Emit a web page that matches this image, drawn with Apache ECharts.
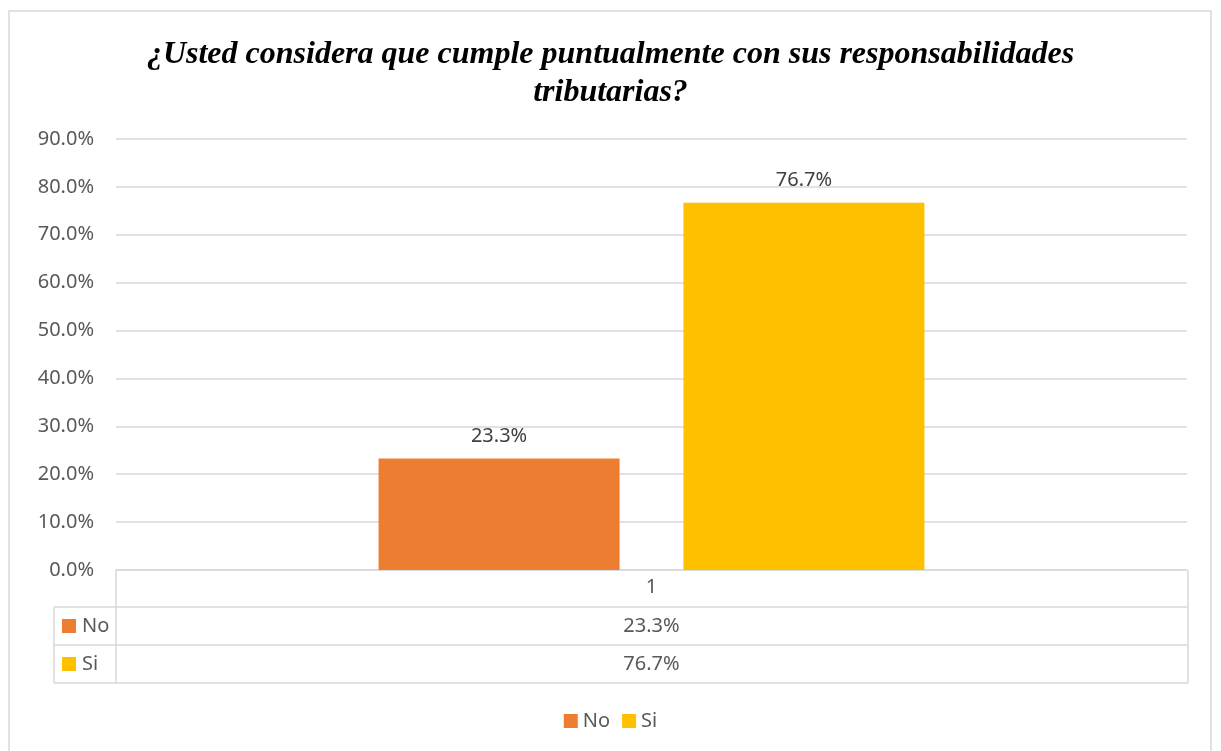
<!DOCTYPE html>
<html>
<head>
<meta charset="utf-8">
<script src="https://cdn.jsdelivr.net/npm/echarts@6/dist/echarts.min.js"></script>
<style>
html,body{margin:0;padding:0;background:#fff;}
#chart{width:1221px;height:751px;}
</style>
</head>
<body>
<div id="chart"></div>
<script>
var categorias=['1'];
var nombres=['No','Si'];
var colores=['#ED7D31','#FFC000'];
var valores=[[0.233],[0.767]];
var titulo='¿Usted considera que cumple puntualmente con sus responsabilidades\ntributarias?';

var fuente='"Noto Sans", sans-serif';
var gris='#d9d9d9';
var tam=20;

//limites del grafico (tabla de datos debajo)
var gLeft=116,gRight=1187,gTop=139,gBottom=570;
var filaH=38;
var tablaLeft=54;

function pct(v){
	return (v*100).toFixed(1)+'%';
}

//tabla de datos
function tabla(){
	var el=[];
	var yCat=gBottom+filaH-1;
	var lineStyle={stroke:gris,lineWidth:1.5};
	//bordes de la fila de categoria
	el.push({type:'line',shape:{x1:gLeft,y1:gBottom,x2:gLeft,y2:yCat+filaH*nombres.length},style:lineStyle});
	el.push({type:'line',shape:{x1:gRight+1,y1:gBottom,x2:gRight+1,y2:yCat+filaH*nombres.length},style:lineStyle});
	el.push({type:'line',shape:{x1:tablaLeft,y1:yCat,x2:tablaLeft,y2:yCat+filaH*nombres.length},style:lineStyle});
	for(var i=0;i<=nombres.length;i++){
		var y=yCat+filaH*i;
		el.push({type:'line',shape:{x1:tablaLeft,y1:y,x2:gRight+1,y2:y},style:lineStyle});
	}
	for(var j=0;j<nombres.length;j++){
		var yc=yCat+filaH*j+filaH/2;
		el.push({type:'rect',shape:{x:62,y:yc-7,width:14,height:14},style:{fill:colores[j]}});
		el.push({type:'text',x:82,y:yc,style:{text:nombres[j],fill:'#595959',font:tam+'px '+fuente,verticalAlign:'middle'}});
		el.push({type:'text',x:(gLeft+gRight)/2,y:yc,style:{text:pct(valores[j][0]),fill:'#595959',font:tam+'px '+fuente,align:'center',verticalAlign:'middle'}});
	}
	//borde exterior
	el.push({type:'rect',shape:{x:9,y:11,width:1202,height:760},style:{fill:'none',stroke:gris,lineWidth:1.5}});
	return el;
}

var series=[];
for(var k=0;k<nombres.length;k++){
	series.push({
		name:nombres[k],
		type:'bar',
		data:valores[k],
		barWidth:241,
		barGap:'26.5%',
		itemStyle:{color:colores[k]},
		label:{show:true,position:'top',distance:12,formatter:function(p){return pct(p.value);},color:'#404040',fontSize:tam,fontFamily:fuente}
	});
}

var option={
	animation:false,
	backgroundColor:'#fff',
	title:{
		text:titulo,
		left:'center',
		top:31,
		textStyle:{fontFamily:'"Liberation Serif", "Times New Roman", serif',fontStyle:'italic',fontWeight:'bold',fontSize:32,color:'#000',lineHeight:38}
	},
	legend:{
		data:nombres,
		bottom:15,
		left:'center',
		icon:'rect',
		itemWidth:14,
		itemHeight:14,
		itemGap:12,
		itemStyle:{borderWidth:0},
		textStyle:{color:'#595959',fontSize:tam,fontFamily:fuente}
	},
	grid:{left:gLeft,right:1221-gRight,top:gTop,bottom:751-gBottom,containLabel:false},
	xAxis:{
		type:'category',
		data:categorias,
		axisLine:{show:true,lineStyle:{color:gris,width:1.5}},
		axisTick:{show:false},
		axisLabel:{color:'#595959',fontSize:tam,fontFamily:fuente,margin:7}
	},
	yAxis:{
		type:'value',
		min:0,
		max:0.9,
		interval:0.1,
		axisLine:{show:false},
		axisTick:{show:false},
		splitLine:{lineStyle:{color:gris,width:1.5}},
		axisLabel:{formatter:pct,color:'#595959',fontSize:tam,fontFamily:fuente,margin:22}
	},
	graphic:tabla(),
	series:series
};

var myChart=echarts.init(document.getElementById('chart'));
myChart.setOption(option);
</script>
</body>
</html>
